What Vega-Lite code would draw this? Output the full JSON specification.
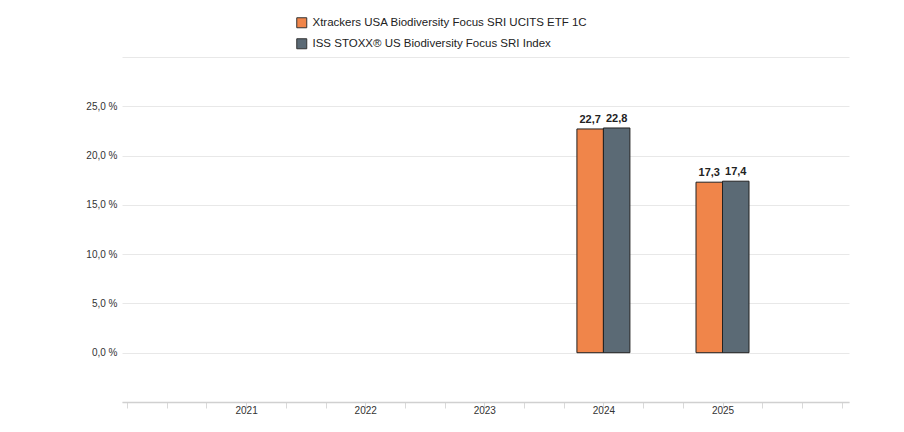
{
  "$schema": "https://vega.github.io/schema/vega-lite/v6.json",
  "width": 727,
  "height": 345,
  "autosize": {"type": "none"},
  "padding": {"left": 122, "top": 57, "right": 55, "bottom": 30},
  "background": "white",
  "config": {
    "view": {"stroke": null},
    "font": "Liberation Sans"
  },
  "data": {
    "values": [
      {"year": 2024, "series": "Xtrackers USA Biodiversity Focus SRI UCITS ETF 1C", "value": 22.7},
      {"year": 2024, "series": "ISS STOXX® US Biodiversity Focus SRI Index", "value": 22.8},
      {"year": 2025, "series": "Xtrackers USA Biodiversity Focus SRI UCITS ETF 1C", "value": 17.3},
      {"year": 2025, "series": "ISS STOXX® US Biodiversity Focus SRI Index", "value": 17.4}
    ]
  },
  "transform": [
    {"calculate": "replace(format(datum.value, '.1f'), '.', ',')", "as": "label"}
  ],
  "encoding": {
    "x": {
      "field": "year",
      "type": "quantitative",
      "scale": {"domain": [2020, 2026.02], "nice": false, "zero": false},
      "axis": {
        "title": null,
        "grid": false,
        "values": [2020, 2020.3333, 2020.6667, 2021, 2021.3333, 2021.6667, 2022, 2022.3333, 2022.6667, 2023, 2023.3333, 2023.6667, 2024, 2024.3333, 2024.6667, 2025, 2025.3333, 2025.6667, 2026],
        "labelExpr": "abs(datum.value - round(datum.value)) < 0.01 && datum.value > 2020.5 && datum.value < 2025.5 ? toString(round(datum.value)) : ''",
        "labelOverlap": false,
        "labelFontSize": 10,
        "labelColor": "#333333",
        "labelPadding": -3,
        "domainColor": "#d0d0d0",
        "domainWidth": 1.5,
        "tickColor": "#d9d9d9",
        "tickSize": 6
      }
    },
    "y": {
      "field": "value",
      "type": "quantitative",
      "scale": {"domain": [-5, 30], "nice": false, "zero": false},
      "axis": {
        "title": null,
        "values": [-5, 0, 5, 10, 15, 20, 25, 30],
        "grid": true,
        "gridColor": "#e8e8e8",
        "domain": false,
        "ticks": false,
        "labelExpr": "datum.value >= 0 && datum.value <= 25 ? replace(format(datum.value, '.1f'), '.', ',') + ' %' : ''",
        "labelFontSize": 10,
        "labelColor": "#333333",
        "labelPadding": 5
      }
    },
    "color": {
      "field": "series",
      "type": "nominal",
      "scale": {
        "domain": ["Xtrackers USA Biodiversity Focus SRI UCITS ETF 1C", "ISS STOXX® US Biodiversity Focus SRI Index"],
        "range": ["#F0854A", "#5B6A75"]
      },
      "legend": {
        "title": null,
        "orient": "none",
        "legendX": 174,
        "legendY": -40,
        "direction": "vertical",
        "symbolType": "square",
        "symbolSize": 100,
        "symbolStrokeColor": "#333333",
        "symbolStrokeWidth": 1,
        "symbolOpacity": 1,
        "labelFontSize": 11.5,
        "labelColor": "#222222",
        "labelOffset": 5,
        "rowPadding": 6,
        "labelLimit": 400
      }
    }
  },
  "layer": [
    {
      "transform": [{"filter": "datum.series == 'Xtrackers USA Biodiversity Focus SRI UCITS ETF 1C'"}],
      "mark": {"type": "bar", "size": 26.5, "xOffset": -13.25, "stroke": "#222222", "strokeWidth": 1, "opacity": 1}
    },
    {
      "transform": [{"filter": "datum.series == 'ISS STOXX® US Biodiversity Focus SRI Index'"}],
      "mark": {"type": "bar", "size": 26.5, "xOffset": 13.25, "stroke": "#222222", "strokeWidth": 1, "opacity": 1}
    },
    {
      "transform": [{"filter": "datum.series == 'Xtrackers USA Biodiversity Focus SRI UCITS ETF 1C'"}],
      "mark": {"type": "text", "xOffset": -13.25, "dy": -4, "baseline": "bottom", "fontSize": 11, "fontWeight": "bold", "color": "#222222"},
      "encoding": {"text": {"field": "label"}, "color": {"value": "#222222"}}
    },
    {
      "transform": [{"filter": "datum.series == 'ISS STOXX® US Biodiversity Focus SRI Index'"}],
      "mark": {"type": "text", "xOffset": 13.25, "dy": -4, "baseline": "bottom", "fontSize": 11, "fontWeight": "bold", "color": "#222222"},
      "encoding": {"text": {"field": "label"}, "color": {"value": "#222222"}}
    }
  ]
}
